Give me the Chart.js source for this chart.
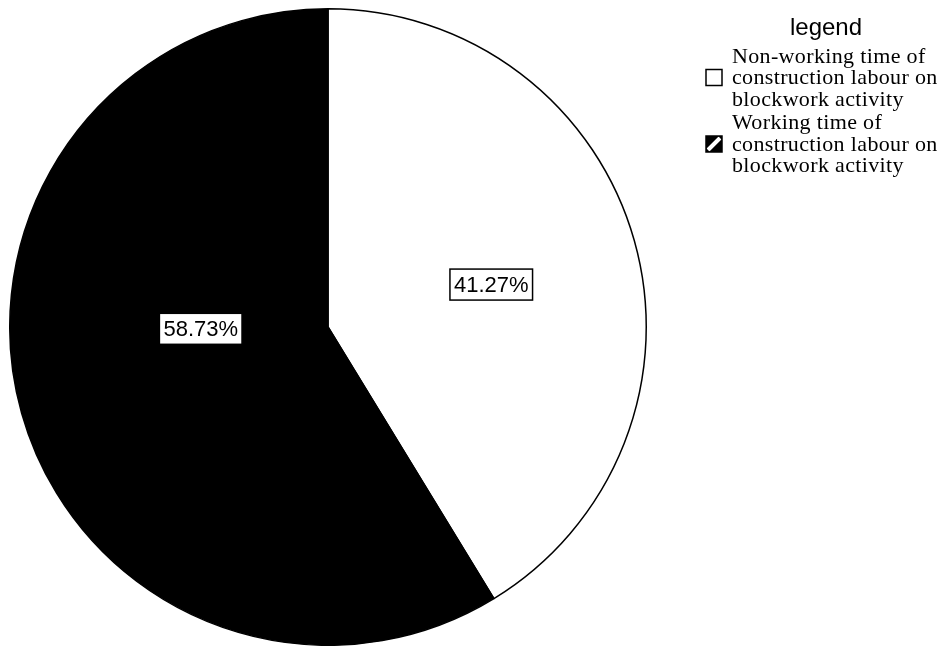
<!DOCTYPE html>
<html lang="en">
<head>
  <meta charset="UTF-8">
  <title>Blockwork labour time</title>
  <script src="https://cdn.jsdelivr.net/npm/chart.js"></script>
  <style>
    html, body { margin: 0; padding: 0; background: #fff; overflow: hidden; }
    canvas { display: block; }
  </style>
</head>
<body>
  <canvas id="pieChart" width="945" height="646"></canvas>

  <script>
    // dados
    const categories = [
      ['Non-working time of', 'construction labour on', 'blockwork activity'],
      ['Working time of', 'construction labour on', 'blockwork activity']
    ];
    const shares = [41.27, 58.73];
    const legendTitle = 'legend';

    const sliceColors = ['#ffffff', '#000000'];
    // posição dos rótulos: fração do raio e giro (rad) a partir do meio da fatia
    const labelRadius = [0.53, 0.40];
    const labelTurn = [0.02, 0.26];

    // rótulos com caixa branca
    const boxedLabels = {
      id: 'boxedLabels',
      afterDatasetsDraw(chart) {
        const ctx = chart.ctx;
        const meta = chart.getDatasetMeta(0);
        ctx.save();
        ctx.font = '22px "Liberation Sans", Arial, sans-serif';
        ctx.textAlign = 'center';
        ctx.textBaseline = 'middle';
        meta.data.forEach((arc, i) => {
          const p = arc.getProps(['x', 'y', 'startAngle', 'endAngle', 'outerRadius'], true);
          const mid = (p.startAngle + p.endAngle) / 2 + labelTurn[i];
          const r = p.outerRadius * labelRadius[i];
          const x = p.x + Math.cos(mid) * r;
          const y = p.y + Math.sin(mid) * r;
          const txt = shares[i].toFixed(2) + '%';
          const w = ctx.measureText(txt).width + 8;
          const h = 31;
          ctx.fillStyle = '#fff';
          ctx.fillRect(x - w / 2, y - h / 2, w, h);
          ctx.lineWidth = 1.5;
          ctx.strokeStyle = '#000';
          ctx.strokeRect(x - w / 2, y - h / 2, w, h);
          ctx.fillStyle = '#000';
          ctx.fillText(txt, x, y + 1);
        });
        ctx.restore();
      }
    };

    // legenda desenhada à mão (texto em várias linhas)
    const sideLegend = {
      id: 'sideLegend',
      afterDraw(chart) {
        const ctx = chart.ctx;
        ctx.save();
        ctx.fillStyle = '#000';
        ctx.textBaseline = 'middle';
        ctx.font = '24px "Liberation Sans", Arial, sans-serif';
        ctx.textAlign = 'center';
        ctx.fillText(legendTitle, 826, 28);

        ctx.font = '22px "Liberation Serif", "Times New Roman", serif';
        ctx.letterSpacing = '0.35px';
        ctx.textAlign = 'left';
        const lineH = 21.5;
        let y = 57;
        categories.forEach((lines, i) => {
          const boxY = y + lineH - 9;
          const bx = 706, bs = 16;
          if (i === 0) {
            ctx.fillStyle = '#fff';
            ctx.fillRect(bx, boxY, bs, bs);
          } else {
            ctx.fillStyle = '#000';
            ctx.fillRect(bx, boxY, bs, bs);
            ctx.save();
            ctx.beginPath();
            ctx.rect(bx, boxY, bs, bs);
            ctx.clip();
            ctx.strokeStyle = '#fff';
            ctx.lineWidth = 4;
            ctx.beginPath();
            ctx.moveTo(bx + 2, boxY + bs - 2);
            ctx.lineTo(bx + bs - 2, boxY + 2);
            ctx.stroke();
            ctx.restore();
          }
          ctx.lineWidth = 1.5;
          ctx.strokeStyle = '#000';
          ctx.strokeRect(bx, boxY, bs, bs);
          ctx.fillStyle = '#000';
          lines.forEach((t, k) => {
            ctx.fillText(t, 732, y + k * lineH);
          });
          y += lines.length * lineH + 2;
        });
        ctx.restore();
      }
    };

    new Chart(document.getElementById('pieChart'), {
      type: 'pie',
      data: {
        labels: categories.map(l => l.join(' ')),
        datasets: [{
          data: shares,
          backgroundColor: sliceColors,
          borderColor: '#000',
          borderWidth: 1.5
        }]
      },
      options: {
        responsive: false,
        animation: false,
        events: [],
        layout: { padding: { left: 8, top: 8, right: 297, bottom: 0 } },
        plugins: {
          legend: { display: false },
          tooltip: { enabled: false }
        }
      },
      plugins: [boxedLabels, sideLegend]
    });
  </script>
</body>
</html>
